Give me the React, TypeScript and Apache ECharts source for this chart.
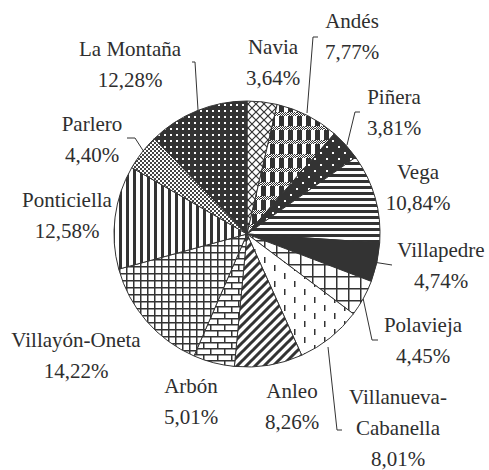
import React, { useEffect, useRef } from 'react';
import * as echarts from 'echarts';

// ---- Data ----
const categories = ['Navia', 'Andés', 'Piñera', 'Vega', 'Villapedre', 'Polavieja', 'Villanueva-Cabanella', 'Anleo', 'Arbón', 'Villayón-Oneta', 'Ponticiella', 'Parlero', 'La Montaña'];
const shares = [3.64, 7.77, 3.81, 10.84, 4.74, 4.45, 8.01, 8.26, 5.01, 14.22, 12.58, 4.40, 12.28];
const labelNames = ['Navia', 'Andés', 'Piñera', 'Vega', 'Villapedre', 'Polavieja', 'Villanueva-\nCabanella', 'Anleo', 'Arbón', 'Villayón-Oneta', 'Ponticiella', 'Parlero', 'La Montaña'];
const patternKinds = ['diamond', 'plaid', 'sparseDots', 'hstripes', 'solid', 'bigGrid', 'dashes', 'diagonal', 'brick', 'smallGrid', 'vstripes', 'checker', 'denseDots'];

// ---- Label layout (page coordinates) ----
const labelCenters = [[273, 62], [352, 36], [394, 112], [418, 187], [441, 265], [423, 340], [398, 428], [292, 406], [191, 401], [76, 355], [67, 215], [92, 139], [130, 64]];
const leaderLines: (number[][] | null)[] = [
  null,
  [[318, 37], [313, 37], [307, 113]],
  [[360, 112], [355, 112], [347, 145]],
  null,
  [[373, 262], [392, 265]],
  [[363, 298], [372, 340], [378, 340]],
  [[328, 347], [337, 430], [342, 430]],
  null,
  null,
  null,
  [[117, 217], [117, 240]],
  [[127, 138], [135, 138], [144, 152]],
  [[192, 62], [195, 62], [198, 110]],
];

const DARK = '#333333';
const FONT = 'Liberation Serif';
const LINE_H = 31;
const fmt = (v: number) => v.toFixed(2).replace('.', ',') + '%';

function tile(w: number, h: number, bg: string, draw: (c: CanvasRenderingContext2D) => void) {
  const cv = document.createElement('canvas');
  cv.width = w;
  cv.height = h;
  const ctx = cv.getContext('2d')!;
  ctx.fillStyle = bg;
  ctx.fillRect(0, 0, w, h);
  ctx.fillStyle = DARK;
  ctx.strokeStyle = DARK;
  draw(ctx);
  return cv;
}

function makePattern(kind: string): any {
  let cv: HTMLCanvasElement;
  switch (kind) {
    case 'solid':
      return DARK;
    case 'diamond':
      cv = tile(8, 8, '#fff', (c) => {
        c.lineWidth = 1.2;
        c.beginPath();
        c.moveTo(-1, -1); c.lineTo(9, 9);
        c.moveTo(9, -1); c.lineTo(-1, 9);
        c.stroke();
      });
      break;
    case 'plaid':
      cv = tile(9, 14, '#fff', (c) => {
        c.fillRect(0, 4, 5, 10);
        for (let y = 0; y < 4; y++) {
          for (let x = 0; x < 9; x++) {
            c.fillStyle = (x + y) % 2 === 0 ? DARK : '#fff';
            c.fillRect(x, y, 1, 1);
          }
        }
      });
      break;
    case 'sparseDots':
      cv = tile(12, 12, DARK, (c) => {
        c.fillStyle = '#fff';
        c.fillRect(2, 2, 2, 2);
        c.fillRect(8, 8, 2, 2);
      });
      break;
    case 'hstripes':
      cv = tile(4, 6, '#fff', (c) => { c.fillRect(0, 0, 4, 3); });
      break;
    case 'bigGrid':
      cv = tile(12, 12, '#fff', (c) => { c.fillRect(0, 0, 12, 1.5); c.fillRect(0, 0, 1.5, 12); });
      break;
    case 'dashes':
      cv = tile(20, 16, '#fff', (c) => { c.fillRect(4, 1, 1.5, 6); c.fillRect(14, 9, 1.5, 6); });
      break;
    case 'diagonal':
      cv = tile(9, 9, '#fff', (c) => {
        c.lineWidth = 3;
        c.beginPath();
        c.moveTo(0, 9); c.lineTo(9, 0);
        c.moveTo(-2, 2); c.lineTo(2, -2);
        c.moveTo(7, 11); c.lineTo(11, 7);
        c.stroke();
      });
      break;
    case 'brick':
      cv = tile(14, 12, '#fff', (c) => {
        c.fillRect(0, 0, 14, 1.5);
        c.fillRect(0, 6, 14, 1.5);
        c.fillRect(0, 0, 1.5, 6);
        c.fillRect(7, 6, 1.5, 6);
      });
      break;
    case 'smallGrid':
      cv = tile(7, 7, '#fff', (c) => { c.fillRect(0, 0, 7, 1.5); c.fillRect(0, 0, 1.5, 7); });
      break;
    case 'vstripes':
      cv = tile(7, 4, '#fff', (c) => { c.fillRect(0, 0, 3, 4); });
      break;
    case 'checker':
      cv = tile(4, 4, '#fff', (c) => { c.fillStyle = '#444'; c.fillRect(0, 0, 2, 2); c.fillRect(2, 2, 2, 2); });
      break;
    case 'denseDots':
    default:
      cv = tile(6, 6, DARK, (c) => { c.fillStyle = '#fff'; c.fillRect(2, 2, 2, 2); });
      break;
  }
  return { image: cv, repeat: 'repeat' };
}

export default function App() {
  const ref = useRef<HTMLDivElement>(null);
  useEffect(() => {
    if (!ref.current) return;
    const chart = echarts.init(ref.current, undefined, { renderer: 'svg' });
    const data = categories.map((name, i) => ({
      name,
      value: shares[i],
      itemStyle: { color: makePattern(patternKinds[i]) },
    }));
    const labelTexts: any[] = [];
    categories.forEach((_, i) => {
      const rows = (labelNames[i] + '\n' + fmt(shares[i])).split('\n');
      rows.forEach((row, k) => {
        labelTexts.push({
          type: 'text',
          x: labelCenters[i][0],
          y: labelCenters[i][1] + (k - (rows.length - 1) / 2) * LINE_H,
          style: {
            text: row,
            fill: '#2e2e2e',
            fontFamily: FONT,
            fontSize: 21,
            align: 'center',
            verticalAlign: 'middle',
          },
        });
      });
    });
    const lines = leaderLines
      .filter((pts) => !!pts)
      .map((pts) => ({
        type: 'polyline',
        silent: true,
        shape: { points: pts },
        style: { stroke: DARK, lineWidth: 1, fill: 'none' },
      }));
    chart.setOption({
      animation: false,
      textStyle: { fontFamily: FONT },
      graphic: [...lines, ...labelTexts],
      series: [
        {
          type: 'pie',
          center: [247, 234],
          radius: 133,
          startAngle: 90,
          clockwise: true,
          data,
          itemStyle: { borderColor: DARK, borderWidth: 1 },
          emphasis: { disabled: true },
          label: { show: false },
          labelLine: { show: false },
        },
      ],
    });
    return () => chart.dispose();
  }, []);
  return (
    <div
      ref={ref}
      style={{ position: 'absolute', left: 0, top: 0, width: 489, height: 470, background: '#ffffff', fontFamily: FONT }}
    />
  );
}
